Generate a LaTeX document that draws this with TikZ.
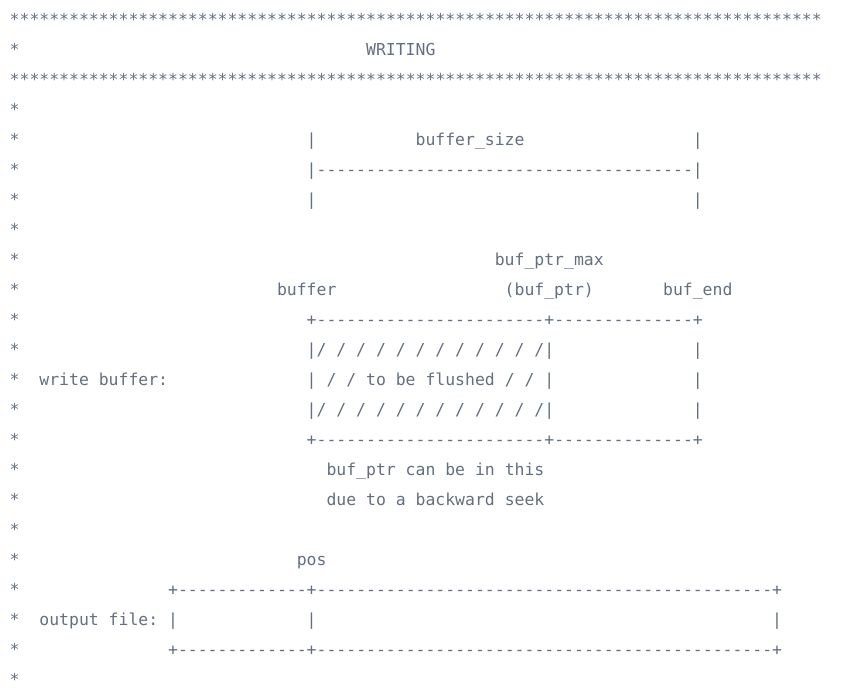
\documentclass[tikz,border=0pt]{standalone}
\usepackage{fontspec}
\setmonofont{DejaVu Sans Mono}
\definecolor{ink}{RGB}{100,112,128}
\ExplSyntaxOn
\cs_new:Npn \myrep #1#2 { \prg_replicate:nn {#1} {#2} }
\ExplSyntaxOff
\tikzset{
  txt/.style={font=\ttfamily\fontsize{16.45}{18}\selectfont, text=ink, inner sep=0pt, anchor=base west}
}
\newcommand\seg[4]{\node[txt] (#1) at ({9.5+#3*9.9},{-(25.3+#2*30.0)}) {#4};}
\begin{document}
\begin{tikzpicture}[x=1pt,y=1pt]
\useasboundingbox (0,0) rectangle (846,-694);
\fill[white] (0,0) rectangle (846,-694);
% left border asterisks
\foreach \i in {0,...,22} { \seg{s\i}{\i}{0}{*} }
% header
\seg{top}{0}{1}{\myrep{81}{*}}
\seg{title}{1}{36}{WRITING}
\seg{bot}{2}{1}{\myrep{81}{*}}
% buffer_size
\seg{bsl}{4}{30}{|}
\seg{bs}{4}{41}{buffer\_size}
\seg{bsr}{4}{69}{|}
\seg{bsline}{5}{30}{|\myrep{38}{-}|}
\seg{bsl2}{6}{30}{|}
\seg{bsr2}{6}{69}{|}
% pointer labels
\seg{bpm}{8}{49}{buf\_ptr\_max}
\seg{bufl}{9}{27}{buffer}
\seg{bp}{9}{50}{(buf\_ptr)}
\seg{be}{9}{66}{buf\_end}
% write buffer box
\seg{wtop}{10}{30}{+\myrep{23}{-}+\myrep{14}{-}+}
\seg{wa}{11}{30}{|/ / / / / / / / / / / /|}
\seg{war}{11}{69}{|}
\seg{wlab}{12}{3}{write buffer:}
\seg{wb}{12}{30}{| / / to be flushed / / |}
\seg{wbr}{12}{69}{|}
\seg{wc}{13}{30}{|/ / / / / / / / / / / /|}
\seg{wcr}{13}{69}{|}
\seg{wbot}{14}{30}{+\myrep{23}{-}+\myrep{14}{-}+}
\seg{n1}{15}{32}{buf\_ptr can be in this}
\seg{n2}{16}{32}{due to a backward seek}
% output file
\seg{pos}{18}{29}{pos}
\seg{otop}{19}{16}{+\myrep{13}{-}+\myrep{46}{-}+}
\seg{olab}{20}{3}{output file:}
\seg{oa}{20}{16}{|}
\seg{ob}{20}{30}{|}
\seg{oc}{20}{77}{|}
\seg{obot}{21}{16}{+\myrep{13}{-}+\myrep{46}{-}+}
\end{tikzpicture}
\end{document}
